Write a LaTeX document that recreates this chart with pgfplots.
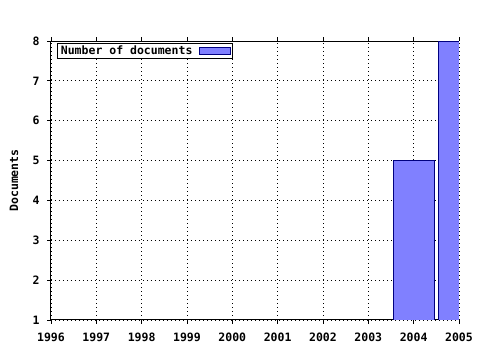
\documentclass[border=0pt]{standalone}
\usepackage{pgfplots}
\pgfplotsset{compat=1.18}
\usepackage{fontspec}
\setmainfont{DejaVu Sans Mono}
\definecolor{barfill}{RGB}{128,128,255}
\definecolor{baredge}{RGB}{0,0,128}
\begin{document}
\begin{tikzpicture}[x=1pt,y=1pt]
\useasboundingbox (0,0) rectangle (480,350);
\fill[white] (0,0) rectangle (480,350);
\begin{axis}[
  at={(51pt,30pt)}, anchor=south west,
  scale only axis, width=408pt, height=279pt,
  xmin=1996, xmax=2005, ymin=1, ymax=8,
  xtick={1996,...,2005}, ytick={1,...,8},
  minor x tick num=4,
  x tick label style={/pgf/number format/1000 sep={}},
  /pgf/number format/assume math mode=true,
  tick label style={font=\bfseries\fontsize{11.5}{12}\selectfont},
  xticklabel style={yshift=-5pt, text height=8.5pt, text depth=0pt},
  yticklabel style={xshift=-4pt},
  tick align=outside, tick style={black, line width=0.8pt},
  major tick length=4pt, minor tick length=3pt,
  xtick pos=both, ytick pos=left,
  grid=major, grid style={black, line width=0.8pt, dash pattern=on 1pt off 3pt},
  axis line style={black, line width=1pt},
  axis x line*=box, axis y line*=left,
  ylabel={Documents},
  every axis y label/.style={at={(axis description cs:-0.0907,0.5)}, rotate=90, anchor=center, font=\bfseries\fontsize{11.5}{12}\selectfont},
  ybar, bar width=0.9,
  legend style={at={(axis cs:1996.13,7.96)}, anchor=north west, draw=black, line width=1pt, font=\bfseries\fontsize{11.5}{13}\selectfont, inner ysep=0.8pt, inner xsep=1.5pt, legend cell align=left, /tikz/every odd column/.style={column sep=5pt}},
  legend plot pos=right,
  legend image code/.code={\draw[line width=0.8pt, fill=barfill, draw=baredge] (0pt,-3.5pt) rectangle (31pt,3.5pt);},
]
\addplot[fill=barfill, draw=baredge, line width=0.8pt] coordinates {(2004,5) (2005,8)};
\addlegendentry{Number of documents}
\end{axis}
\end{tikzpicture}
\end{document}
